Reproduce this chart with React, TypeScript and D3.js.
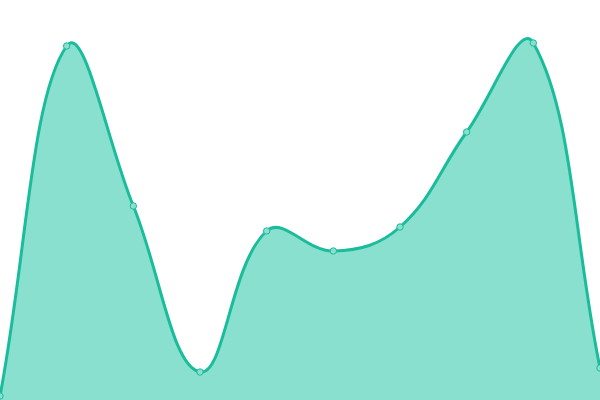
import React from "react";
import * as d3 from "d3";

const categories = ["0", "1", "2", "3", "4", "5", "6", "7", "8", "9"];
const values = [4, 354, 194, 28, 169, 149, 173, 268, 357, 32];

const W = 600;
const H = 400;
const TENSION = 0.4;

type P = [number, number];

function splinePath(pts: P[], t: number, area: boolean): string {
  const cps = pts.map((cur, i) => {
    const prev = i > 0 ? pts[i - 1] : cur;
    const next = i < pts.length - 1 ? pts[i + 1] : cur;
    const d01 = Math.hypot(cur[0] - prev[0], cur[1] - prev[1]);
    const d12 = Math.hypot(next[0] - cur[0], next[1] - cur[1]);
    let s01 = d01 / (d01 + d12);
    let s12 = d12 / (d01 + d12);
    if (isNaN(s01)) s01 = 0;
    if (isNaN(s12)) s12 = 0;
    const fa = t * s01;
    const fb = t * s12;
    const clamp = (p: P): P => [Math.max(0, Math.min(W, p[0])), Math.max(0, Math.min(H, p[1]))];
    return {
      prev: clamp([cur[0] - fa * (next[0] - prev[0]), cur[1] - fa * (next[1] - prev[1])]),
      next: clamp([cur[0] + fb * (next[0] - prev[0]), cur[1] + fb * (next[1] - prev[1])]),
    };
  });
  const p = d3.path();
  p.moveTo(pts[0][0], pts[0][1]);
  for (let i = 1; i < pts.length; i++) {
    const a = cps[i - 1].next;
    const b = cps[i].prev;
    p.bezierCurveTo(a[0], a[1], b[0], b[1], pts[i][0], pts[i][1]);
  }
  if (area) {
    p.lineTo(pts[pts.length - 1][0], H);
    p.lineTo(pts[0][0], H);
    p.closePath();
  }
  return p.toString();
}

export default function App() {
  const x = d3.scalePoint<string>().domain(categories).range([0, W]);
  const y = d3.scaleLinear().domain([0, 400]).range([H, 0]);
  const pts = categories.map((c, i) => [x(c) as number, y(values[i])] as P);
  return (
    <svg
      width={W}
      height={H}
      style={{ position: "absolute", left: 0, top: 0, display: "block" }}
    >
      <rect x={0} y={0} width={W} height={H} fill="#ffffff" />
      <path d={splinePath(pts, TENSION, true)} fill="#8ae0cf" stroke="none" />
      <path d={splinePath(pts, TENSION, false)} fill="none" stroke="#1abc9c" strokeWidth={3} />
      {pts.map((p, i) => (
        <circle key={i} cx={p[0]} cy={p[1]} r={3.2} fill="#8ae0cf" stroke="#1abc9c" strokeWidth={1} />
      ))}
    </svg>
  );
}
